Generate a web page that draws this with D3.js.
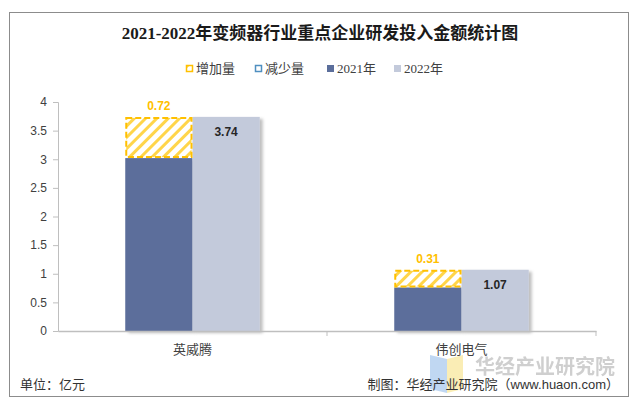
<!DOCTYPE html>
<html>
<head>
<meta charset="utf-8">
<script src="https://cdn.jsdelivr.net/npm/d3@7"></script>
<style>
  body { margin: 0; background: #fff; }
  svg { display: block; }
</style>
</head>
<body>
<svg id="chart" width="640" height="409"></svg>
<script>
// data
var companies = ["英威腾", "伟创电气"];
var y2021 = [3.02, 0.76];
var y2022 = [3.74, 1.07];
var increase = [0.72, 0.31];
var yTicks = [0, 0.5, 1, 1.5, 2, 2.5, 3, 3.5, 4];
var legendNames = ["增加量", "减少量", "2021年", "2022年"];

var svg = d3.select("#chart");
var margin = {top: 102, right: 44, bottom: 78, left: 58},
    width = 640 - margin.left - margin.right,
    height = 409 - margin.top - margin.bottom;

var serif = "'Liberation Serif', 'Noto Sans CJK SC', serif";
var sans = "'Liberation Sans', Arial, sans-serif";

// pattern for hatched increase bar
var defs = svg.append("defs");
var pat = defs.append("pattern")
  .attr("id", "hatch")
  .attr("patternUnits", "userSpaceOnUse")
  .attr("width", 8).attr("height", 8)
  .attr("patternTransform", "rotate(45)");
pat.append("rect").attr("width", 8).attr("height", 8).attr("fill", "#fff");
pat.append("rect").attr("width", 3).attr("height", 8).attr("fill", "#FFD54A");

var flt = defs.append("filter").attr("id", "shadow")
  .attr("x", "-10%").attr("y", "-10%").attr("width", "130%").attr("height", "130%");
flt.append("feDropShadow").attr("dx", 3).attr("dy", 2).attr("stdDeviation", 1.5)
  .attr("flood-color", "#000").attr("flood-opacity", 0.25);

// outer border
svg.append("rect").attr("x", 9.5).attr("y", 12.5).attr("width", 619).attr("height", 384)
  .attr("fill", "#fff").attr("stroke", "#8c8c8c").attr("stroke-width", 1);

// title
svg.append("text").attr("x", 320).attr("y", 39).attr("text-anchor", "middle")
  .style("font-family", serif).style("font-size", "17px").style("font-weight", "bold")
  .attr("fill", "#1a1a1a")
  .text("2021-2022年变频器行业重点企业研发投入金额统计图");

// legend
var legendX = [186, 255, 327, 394];
var lg = svg.append("g").style("font-family", serif).style("font-size", "13px");
legendNames.forEach(function(name, i) {
  var g = lg.append("g").attr("transform", "translate(" + legendX[i] + ",65)");
  if (i === 0) {
    g.append("rect").attr("x", 0.5).attr("y", 0.5).attr("width", 6).attr("height", 6)
      .attr("fill", "url(#hatch)").attr("stroke", "#FFC000").attr("stroke-width", 1.5);
  } else if (i === 1) {
    g.append("rect").attr("x", 0.5).attr("y", 0.5).attr("width", 6).attr("height", 6)
      .attr("fill", "#fff").attr("stroke", "#4F8FC0").attr("stroke-width", 1.5);
  } else {
    g.append("rect").attr("x", 0).attr("y", 0).attr("width", 7).attr("height", 7)
      .attr("fill", i === 2 ? "#5B6E9B" : "#C3CADB");
  }
  g.append("text").attr("x", 10).attr("y", 8).attr("fill", "#404040").text(name);
});

var chart = svg.append("g").attr("transform", "translate(" + margin.left + "," + margin.top + ")");

var x = d3.scaleBand().domain(companies).range([0, width]);
var y = d3.scaleLinear().domain([0, 4]).range([height, 0]);
var barW = x.bandwidth() * 0.25;

// axes
var yAxis = chart.append("g")
  .call(d3.axisLeft(y).tickValues(yTicks).tickSize(5).tickPadding(6).tickFormat(d3.format("")));
yAxis.select(".domain").attr("stroke", "#bfbfbf");
yAxis.selectAll(".tick line").attr("stroke", "#bfbfbf");
yAxis.selectAll("text").style("font-family", sans).style("font-size", "12px").attr("fill", "#404040");

// bars 2021
chart.selectAll(".b2021").data(companies).enter().append("rect")
  .attr("class", "b2021")
  .attr("x", function(d) { return x(d) + x.bandwidth() / 2 - barW; })
  .attr("y", function(d, i) { return y(y2021[i]); })
  .attr("width", barW)
  .attr("height", function(d, i) { return height - y(y2021[i]); })
  .attr("fill", "#5B6E9B")
  .attr("filter", "url(#shadow)");

// bars 2022
chart.selectAll(".b2022").data(companies).enter().append("rect")
  .attr("class", "b2022")
  .attr("x", function(d) { return x(d) + x.bandwidth() / 2; })
  .attr("y", function(d, i) { return y(y2022[i]); })
  .attr("width", barW)
  .attr("height", function(d, i) { return height - y(y2022[i]); })
  .attr("fill", "#C3CADB")
  .attr("filter", "url(#shadow)");

// increase bars (hatched, dashed outline)
chart.selectAll(".inc").data(companies).enter().append("rect")
  .attr("class", "inc")
  .attr("x", function(d) { return x(d) + x.bandwidth() / 2 - barW + 1; })
  .attr("y", function(d, i) { return y(y2021[i] + increase[i]) + 1; })
  .attr("width", barW - 2)
  .attr("height", function(d, i) { return y(y2021[i]) - y(y2021[i] + increase[i]) - 2; })
  .attr("fill", "url(#hatch)")
  .attr("stroke", "#FFC000").attr("stroke-width", 2).attr("stroke-dasharray", "6,3");

// labels
chart.selectAll(".incLbl").data(companies).enter().append("text")
  .attr("x", function(d) { return x(d) + x.bandwidth() / 2 - barW / 2; })
  .attr("y", function(d, i) { return y(y2021[i] + increase[i]) - 7; })
  .attr("text-anchor", "middle")
  .style("font-family", sans).style("font-size", "12px").style("font-weight", "bold")
  .attr("fill", "#FFC000")
  .text(function(d, i) { return increase[i].toFixed(2); });

chart.selectAll(".valLbl").data(companies).enter().append("text")
  .attr("x", function(d) { return x(d) + x.bandwidth() / 2 + barW / 2; })
  .attr("y", function(d, i) { return y(y2022[i]) + 19; })
  .attr("text-anchor", "middle")
  .style("font-family", sans).style("font-size", "12px").style("font-weight", "bold")
  .attr("fill", "#262626")
  .text(function(d, i) { return y2022[i].toFixed(2); });

// x axis (drawn over bars)
var xAxis = chart.append("g").attr("transform", "translate(0," + height + ")")
  .call(d3.axisBottom(x).tickSize(0).tickPadding(14));
xAxis.select(".domain").attr("stroke", "#bfbfbf").attr("stroke-width", 1.5);
xAxis.selectAll("text").style("font-family", serif).style("font-size", "13px").attr("fill", "#404040");
// separator tick marks at band boundaries
chart.selectAll(".sep").data([x.range()[0] + x.bandwidth(), x.range()[1]]).enter().append("line")
  .attr("x1", function(d) { return d; }).attr("x2", function(d) { return d; })
  .attr("y1", height).attr("y2", height + 5).attr("stroke", "#bfbfbf");

// watermark
var wm = svg.append("g").attr("opacity", 0.55);
wm.append("path").attr("d", "M430,355 L447,359 L447,393 L430,389 Z").attr("fill", "#8DB8E8");
wm.append("path").attr("d", "M447,359 L463,355 L463,389 L447,393 Z").attr("fill", "#F6E07A");
wm.append("text").attr("x", 475).attr("y", 374)
  .style("font-family", "'Noto Sans CJK SC', sans-serif").style("font-size", "20px").style("font-weight", "bold")
  .attr("fill", "#a8a8a8").text("华经产业研究院");

// footer
svg.append("text").attr("x", 20).attr("y", 389)
  .style("font-family", serif).style("font-size", "13px").attr("fill", "#333")
  .text("单位：亿元");
svg.append("text").attr("x", 619).attr("y", 389).attr("text-anchor", "end")
  .style("font-family", serif).style("font-size", "13px").attr("fill", "#333")
  .text("制图：华经产业研究院（")
  .append("tspan").style("font-family", sans).text("www.huaon.com")
  .select(function() { return this.parentNode; })
  .append("tspan").text("）");
</script>
</body>
</html>
